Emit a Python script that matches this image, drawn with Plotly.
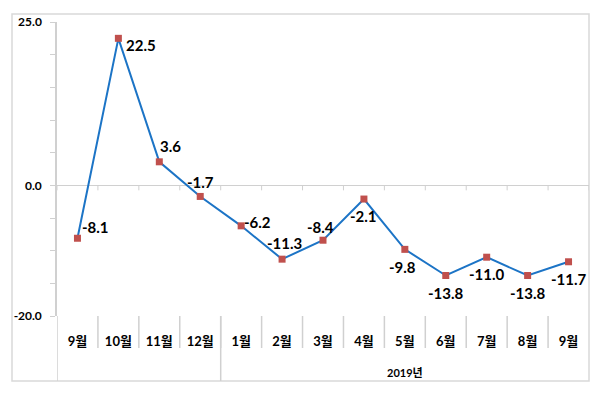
import plotly.graph_objects as go

categories = ["9월", "10월", "11월", "12월", "1월", "2월", "3월", "4월", "5월", "6월", "7월", "8월", "9월"]
values = [-8.1, 22.5, 3.6, -1.7, -6.2, -11.3, -8.4, -2.1, -9.8, -13.8, -11.0, -13.8, -11.7]
group_label = "2019년"
y_tick_vals = [25, 20, 15, 10, 5, 0, -5, -10, -15, -20]
y_tick_text = ["25.0", "", "", "", "", "0.0", "", "", "", "-20.0"]

# label offsets (px) relative to each point: (dx, dy) with dy downward
label_offsets = [(18, -11), (23, 7), (11, -16), (0, -14), (16, -4), (2, -16), (-3, -13),
                 (0, 17), (-2, 18), (0, 18), (0, 17), (0, 18), (0, 17)]

FONT = "Lato, 'Noto Sans CJK KR', sans-serif"
GRAY = "#d0d0d0"

# page body has an 8px margin; figure is sized to compensate
W, H = 592, 385
ML, MR, MT, MB = 49, 11, 14, 77
plot_w = W - ML - MR
plot_h = H - MT - MB

xs = list(range(len(categories)))
fig = go.Figure()
fig.add_trace(go.Scatter(
    x=xs, y=values, mode="lines+markers",
    line=dict(color="#1c74c6", width=2),
    marker=dict(symbol="square", size=7, color="#c0504d"),
    hoverinfo="skip", showlegend=False,
))

annotations = []
for i, v in enumerate(values):
    dx, dy = label_offsets[i]
    annotations.append(dict(
        x=i, y=v, xref="x", yref="y", text=f"{v:.1f}", showarrow=False,
        xshift=dx, yshift=-dy, xanchor="center", yanchor="middle",
        font=dict(family=FONT, size=15, color="black", weight=700),
    ))

first_2019 = categories.index("1월")
annotations.append(dict(
    x=(first_2019 + len(categories) - 1) / 2, y=-56 / plot_h, xref="x", yref="paper",
    text=group_label, showarrow=False, xanchor="center", yanchor="middle",
    font=dict(family=FONT, size=11, color="black", weight=700),
))

sep_len = 32 / plot_h
grp_len = 65 / plot_h
zero_pos = 20 / 45

shapes = []
for i in range(len(categories) + 1):
    b = i - 0.5
    shapes.append(dict(type="line", xref="x", yref="paper", x0=b, x1=b,
                       y0=zero_pos, y1=zero_pos - 5 / plot_h, line=dict(color=GRAY, width=1)))
    if 0 < i < len(categories):
        shapes.append(dict(type="line", xref="x", yref="paper", x0=b, x1=b,
                           y0=0, y1=-sep_len, line=dict(color=GRAY, width=1.5)))
for b in [-0.5, first_2019 - 0.5]:
    shapes.append(dict(type="line", xref="x", yref="paper", x0=b, x1=b,
                       y0=0, y1=-grp_len, line=dict(color=GRAY, width=1.5)))
shapes.append(dict(type="rect", xref="paper", yref="paper",
                   x0=-45 / plot_w, x1=1.0, y0=-grp_len, y1=1 + 8 / plot_h,
                   line=dict(color="#d9d9d9", width=1.5), layer="below"))

fig.update_layout(
    width=W, height=H,
    margin=dict(l=ML, r=MR, t=MT, b=MB),
    paper_bgcolor="white", plot_bgcolor="white",
    showlegend=False,
    annotations=annotations,
    shapes=shapes,
    xaxis=dict(
        range=[-0.5, len(categories) - 0.5], automargin=False,
        tickmode="array", tickvals=xs, ticktext=categories,
        showgrid=False, zeroline=False, showline=False, ticks="",
        ticklabelstandoff=16,
        tickfont=dict(family=FONT, size=13, color="black", weight=700),
    ),
    yaxis=dict(
        range=[-20, 25], automargin=False,
        tickmode="array", tickvals=y_tick_vals, ticktext=y_tick_text,
        showgrid=False, zeroline=True, zerolinecolor=GRAY, zerolinewidth=1,
        showline=True, linecolor=GRAY, linewidth=1.5,
        ticks="outside", ticklen=5, tickcolor=GRAY, tickwidth=1,
        ticklabelstandoff=6,
        tickfont=dict(family=FONT, size=12, color="black", weight=700),
    ),
)

fig.write_html("out.html")
